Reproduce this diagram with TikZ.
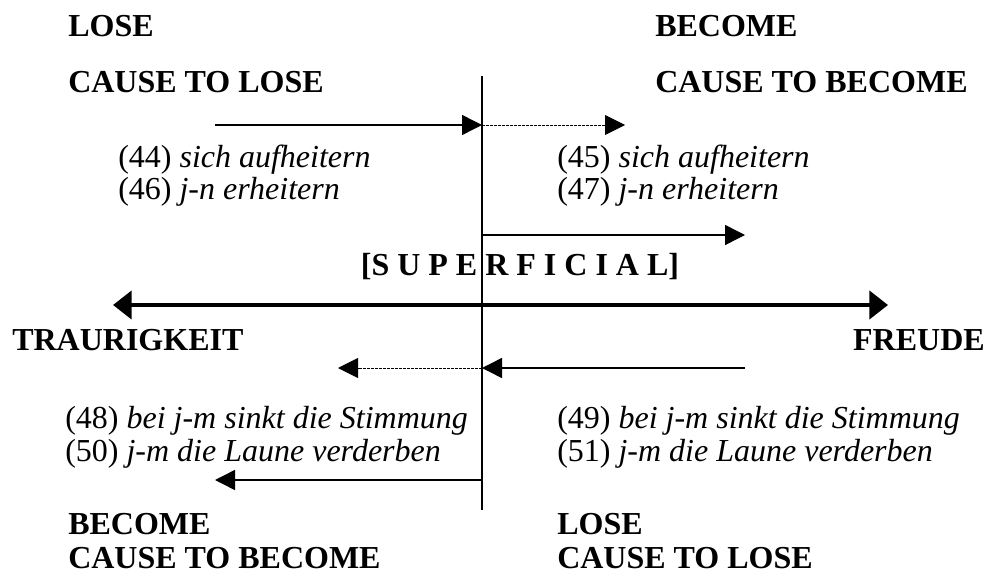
\documentclass[tikz,border=0pt]{standalone}
\usepackage{fontspec}
\setmainfont{Liberation Serif}
\usetikzlibrary{arrows.meta}
\tikzstyle{lbl} = [anchor=base west, inner sep=0pt, font=\fontsize{24}{28}\selectfont\bfseries]
\tikzstyle{ex} = [anchor=base west, inner sep=0pt, font=\fontsize{24}{28}\selectfont]
\tikzstyle{arrow} = [line width=1.1pt,-{Triangle[length=15pt,width=15pt]}]
\tikzstyle{dotarrow} = [line width=0.7pt,dash pattern=on 2pt off 1pt,-{Triangle[length=15pt,width=15pt]}]
\tikzstyle{bigarrow} = [line width=3.2pt,{Triangle[length=14pt,width=21pt]}-{Triangle[length=14pt,width=21pt]}]

\begin{document}
\begin{tikzpicture}[x=0.75pt,y=-0.75pt]
    \useasboundingbox (0,0) rectangle (995,574);
    % axis
    \coordinate (axtop) at (482,76);
    \coordinate (axbot) at (482,510);
    \draw [line width=1.1pt] (axtop) -- (axbot);
    % upper labels
    \node[lbl] (loseA) at (68,37) {LOSE};
    \node[lbl] (causeloseA) at (68,93) {CAUSE TO LOSE};
    \node[lbl] (becomeA) at (655,37) {BECOME};
    \node[lbl] (causebecomeA) at (655,93) {CAUSE TO BECOME};
    % upper arrows
    \coordinate (upL) at (215,125);
    \coordinate (upM) at (482,125);
    \coordinate (upR) at (625,125);
    \draw [arrow] (upL) -- (upM);
    \draw [dotarrow] (upM) -- (upR);
    \node[ex] (ex44) at (118,167) {(44) \textit{sich aufheitern}};
    \node[ex] (ex46) at (118,199) {(46) \textit{j-n erheitern}};
    \node[ex] (ex45) at (557,167) {(45) \textit{sich aufheitern}};
    \node[ex] (ex47) at (557,199) {(47) \textit{j-n erheitern}};
    \coordinate (supL) at (482,235);
    \coordinate (supR) at (745,235);
    \draw [arrow] (supL) -- (supR);
    \node[lbl,anchor=base] (superficial) at (520,275) {[S U P E R F I C I A L]};
    % main scale
    \coordinate (sadend) at (113,305);
    \coordinate (joyend) at (888,305);
    \draw [bigarrow] (sadend) -- (joyend);
    \node[lbl] (trauer) at (12,350) {TRAURIGKEIT};
    \node[lbl,anchor=base east] (freude) at (985,350) {FREUDE};
    % lower arrows
    \coordinate (lowR) at (745,368);
    \coordinate (lowM) at (482,368);
    \coordinate (lowL) at (338,368);
    \draw [arrow] (lowR) -- (lowM);
    \draw [dotarrow] (lowM) -- (lowL);
    \node[ex] (ex48) at (65,428) {(48) \textit{bei j-m sinkt die Stimmung}};
    \node[ex] (ex50) at (65,461) {(50) \textit{j-m die Laune verderben}};
    \node[ex] (ex49) at (557,428) {(49) \textit{bei j-m sinkt die Stimmung}};
    \node[ex] (ex51) at (557,461) {(51) \textit{j-m die Laune verderben}};
    \coordinate (botR) at (482,480);
    \coordinate (botL) at (215,480);
    \draw [arrow] (botR) -- (botL);
    % lower labels
    \node[lbl] (becomeB) at (68,534) {BECOME};
    \node[lbl] (causebecomeB) at (68,568) {CAUSE TO BECOME};
    \node[lbl] (loseB) at (557,534) {LOSE};
    \node[lbl] (causeloseB) at (557,568) {CAUSE TO LOSE};
\end{tikzpicture}
\end{document}
